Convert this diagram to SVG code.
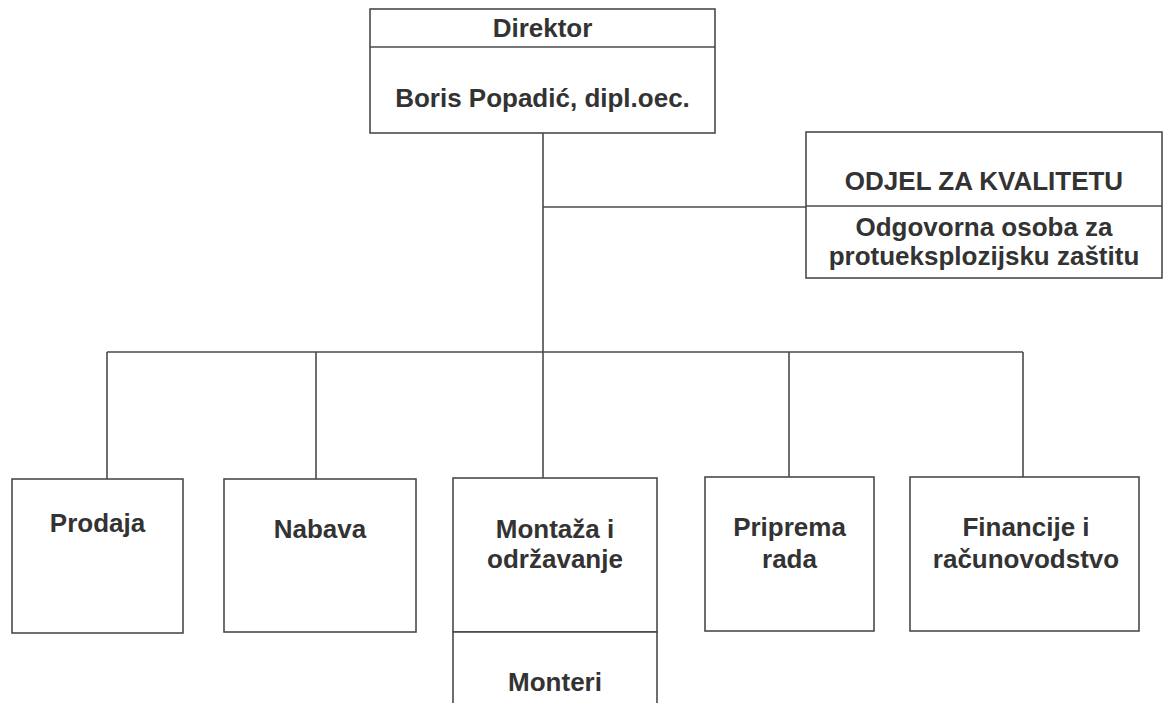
<svg xmlns="http://www.w3.org/2000/svg" width="1165" height="703" viewBox="0 0 1165 703">
<style>
.box{fill:#ffffff;stroke:#4a4a4a;stroke-width:1.6}
.ln{fill:none;stroke:#4a4a4a;stroke-width:1.6}
text{font-family:"Liberation Sans",Arial,sans-serif;font-size:26px;font-weight:bold;fill:#333333;text-anchor:middle}
</style>
<rect width="1165" height="703" fill="#ffffff"/>
<g id="connectors">
<path class="ln" d="M543 133 V478"/>
<path class="ln" d="M543 207 H806"/>
<path class="ln" d="M107 352 H1023"/>
<path class="ln" d="M107 352 V479"/>
<path class="ln" d="M316 352 V479"/>
<path class="ln" d="M789 352 V477"/>
<path class="ln" d="M1023 352 V477"/>
</g>
<g id="direktor">
<rect class="box" x="370" y="9" width="345" height="124"/>
<path class="ln" d="M370 47 H715"/>
<text x="542.5" y="37">Direktor</text>
<text x="542.5" y="107">Boris Popadić, dipl.oec.</text>
</g>
<g id="kvaliteta">
<rect class="box" x="806" y="132" width="356" height="146"/>
<path class="ln" d="M806 206 H1162"/>
<text x="984" y="190">ODJEL ZA KVALITETU</text>
<text x="984" y="236">Odgovorna osoba za</text>
<text x="984" y="265">protueksplozijsku zaštitu</text>
</g>
<g id="prodaja">
<rect class="box" x="12" y="479" width="171" height="154"/>
<text x="97.5" y="532">Prodaja</text>
</g>
<g id="nabava">
<rect class="box" x="224" y="479" width="192" height="153"/>
<text x="320" y="538">Nabava</text>
</g>
<g id="montaza">
<rect class="box" x="453" y="478" width="204" height="154"/>
<text x="555" y="538">Montaža i</text>
<text x="555" y="568">održavanje</text>
</g>
<g id="monteri">
<rect class="box" x="453" y="632" width="204" height="80"/>
<text x="555" y="691">Monteri</text>
</g>
<g id="priprema">
<rect class="box" x="705" y="477" width="169" height="154"/>
<text x="789.5" y="536">Priprema</text>
<text x="789.5" y="568">rada</text>
</g>
<g id="financije">
<rect class="box" x="910" y="477" width="229" height="154"/>
<text x="1026" y="536">Financije i</text>
<text x="1026" y="568">računovodstvo</text>
</g>
</svg>
